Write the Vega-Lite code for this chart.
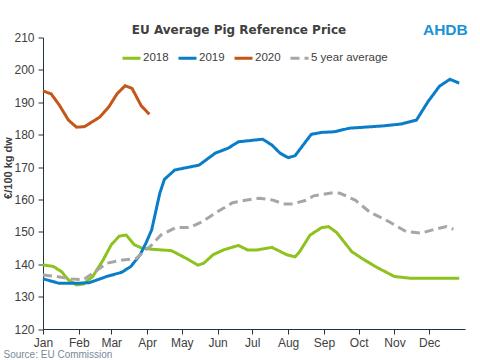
{
  "$schema": "https://vega.github.io/schema/vega-lite/v6.json",
  "width": 422,
  "height": 291.5,
  "autosize": {"type": "none"},
  "padding": {"left": 43, "top": 37.5, "right": 15, "bottom": 31},
  "background": "white",
  "title": {
    "text": "EU Average Pig Reference Price",
    "fontSize": 12,
    "font": "DejaVu Sans",
    "fontWeight": "bold",
    "color": "#404040",
    "anchor": "middle",
    "dx": -15,
    "offset": -14
  },
  "config": {
    "view": {"stroke": null},
    "font": "Liberation Sans",
    "axis": {"grid": false, "domainColor": "#1f3441", "tickColor": "#1f3441", "labelColor": "#404040", "labelFontSize": 12, "tickSize": 5, "labelOverlap": false, "labelFlush": false}
  },
  "datasets": {
    "prices": [
      {"series": "2018", "date": "2019-01-01", "value": 139.8},
      {"series": "2018", "date": "2019-01-10", "value": 139.3},
      {"series": "2018", "date": "2019-01-17", "value": 137.7},
      {"series": "2018", "date": "2019-01-23", "value": 135.2},
      {"series": "2018", "date": "2019-01-30", "value": 133.6},
      {"series": "2018", "date": "2019-02-05", "value": 133.9},
      {"series": "2018", "date": "2019-02-13", "value": 136.2},
      {"series": "2018", "date": "2019-02-22", "value": 141.3},
      {"series": "2018", "date": "2019-03-01", "value": 146.0},
      {"series": "2018", "date": "2019-03-08", "value": 148.7},
      {"series": "2018", "date": "2019-03-14", "value": 149.0},
      {"series": "2018", "date": "2019-03-21", "value": 146.0},
      {"series": "2018", "date": "2019-03-28", "value": 144.9},
      {"series": "2018", "date": "2019-04-06", "value": 144.6},
      {"series": "2018", "date": "2019-04-22", "value": 144.2},
      {"series": "2018", "date": "2019-05-05", "value": 141.8},
      {"series": "2018", "date": "2019-05-15", "value": 139.7},
      {"series": "2018", "date": "2019-05-20", "value": 140.3},
      {"series": "2018", "date": "2019-05-28", "value": 142.9},
      {"series": "2018", "date": "2019-06-06", "value": 144.4},
      {"series": "2018", "date": "2019-06-19", "value": 145.8},
      {"series": "2018", "date": "2019-06-27", "value": 144.4},
      {"series": "2018", "date": "2019-07-05", "value": 144.4},
      {"series": "2018", "date": "2019-07-18", "value": 145.2},
      {"series": "2018", "date": "2019-07-31", "value": 142.9},
      {"series": "2018", "date": "2019-08-07", "value": 142.3},
      {"series": "2018", "date": "2019-08-11", "value": 143.9},
      {"series": "2018", "date": "2019-08-20", "value": 149.0},
      {"series": "2018", "date": "2019-08-30", "value": 151.3},
      {"series": "2018", "date": "2019-09-05", "value": 151.6},
      {"series": "2018", "date": "2019-09-12", "value": 149.8},
      {"series": "2018", "date": "2019-09-25", "value": 143.9},
      {"series": "2018", "date": "2019-10-06", "value": 141.3},
      {"series": "2018", "date": "2019-10-18", "value": 138.8},
      {"series": "2018", "date": "2019-11-01", "value": 136.2},
      {"series": "2018", "date": "2019-11-14", "value": 135.7},
      {"series": "2018", "date": "2019-12-27", "value": 135.7},
      {"series": "2019", "date": "2019-01-01", "value": 135.5},
      {"series": "2019", "date": "2019-01-15", "value": 134.1},
      {"series": "2019", "date": "2019-01-30", "value": 134.1},
      {"series": "2019", "date": "2019-02-10", "value": 134.3},
      {"series": "2019", "date": "2019-02-25", "value": 136.2},
      {"series": "2019", "date": "2019-03-10", "value": 137.5},
      {"series": "2019", "date": "2019-03-18", "value": 139.3},
      {"series": "2019", "date": "2019-03-26", "value": 142.9},
      {"series": "2019", "date": "2019-03-31", "value": 146.5},
      {"series": "2019", "date": "2019-04-05", "value": 150.6},
      {"series": "2019", "date": "2019-04-12", "value": 161.9},
      {"series": "2019", "date": "2019-04-16", "value": 166.2},
      {"series": "2019", "date": "2019-04-25", "value": 169.1},
      {"series": "2019", "date": "2019-05-16", "value": 170.6},
      {"series": "2019", "date": "2019-05-30", "value": 174.3},
      {"series": "2019", "date": "2019-06-10", "value": 175.8},
      {"series": "2019", "date": "2019-06-19", "value": 177.8},
      {"series": "2019", "date": "2019-07-10", "value": 178.6},
      {"series": "2019", "date": "2019-07-18", "value": 176.8},
      {"series": "2019", "date": "2019-07-25", "value": 174.3},
      {"series": "2019", "date": "2019-08-01", "value": 172.9},
      {"series": "2019", "date": "2019-08-07", "value": 173.5},
      {"series": "2019", "date": "2019-08-21", "value": 180.1},
      {"series": "2019", "date": "2019-08-30", "value": 180.7},
      {"series": "2019", "date": "2019-09-10", "value": 180.9},
      {"series": "2019", "date": "2019-09-23", "value": 182.0},
      {"series": "2019", "date": "2019-10-22", "value": 182.7},
      {"series": "2019", "date": "2019-11-07", "value": 183.3},
      {"series": "2019", "date": "2019-11-20", "value": 184.5},
      {"series": "2019", "date": "2019-11-30", "value": 190.2},
      {"series": "2019", "date": "2019-12-10", "value": 195.0},
      {"series": "2019", "date": "2019-12-19", "value": 197.1},
      {"series": "2019", "date": "2019-12-27", "value": 195.9},
      {"series": "2020", "date": "2019-01-01", "value": 193.5},
      {"series": "2020", "date": "2019-01-08", "value": 192.6},
      {"series": "2020", "date": "2019-01-15", "value": 189.2},
      {"series": "2020", "date": "2019-01-23", "value": 184.5},
      {"series": "2020", "date": "2019-01-30", "value": 182.3},
      {"series": "2020", "date": "2019-02-06", "value": 182.5},
      {"series": "2020", "date": "2019-02-19", "value": 185.4},
      {"series": "2020", "date": "2019-02-27", "value": 188.6},
      {"series": "2020", "date": "2019-03-06", "value": 192.6},
      {"series": "2020", "date": "2019-03-13", "value": 195.1},
      {"series": "2020", "date": "2019-03-19", "value": 194.3},
      {"series": "2020", "date": "2019-03-27", "value": 188.9},
      {"series": "2020", "date": "2019-04-03", "value": 186.3},
      {"series": "5 year average", "date": "2019-01-01", "value": 136.7},
      {"series": "5 year average", "date": "2019-01-13", "value": 136.2},
      {"series": "5 year average", "date": "2019-01-24", "value": 135.5},
      {"series": "5 year average", "date": "2019-02-05", "value": 135.2},
      {"series": "5 year average", "date": "2019-02-13", "value": 137.2},
      {"series": "5 year average", "date": "2019-02-25", "value": 140.3},
      {"series": "5 year average", "date": "2019-03-11", "value": 141.3},
      {"series": "5 year average", "date": "2019-03-23", "value": 141.8},
      {"series": "5 year average", "date": "2019-04-01", "value": 144.9},
      {"series": "5 year average", "date": "2019-04-03", "value": 145.2},
      {"series": "5 year average", "date": "2019-04-13", "value": 149.0},
      {"series": "5 year average", "date": "2019-04-26", "value": 151.3},
      {"series": "5 year average", "date": "2019-05-08", "value": 151.3},
      {"series": "5 year average", "date": "2019-05-19", "value": 153.2},
      {"series": "5 year average", "date": "2019-05-31", "value": 156.0},
      {"series": "5 year average", "date": "2019-06-14", "value": 159.0},
      {"series": "5 year average", "date": "2019-07-02", "value": 160.2},
      {"series": "5 year average", "date": "2019-07-07", "value": 160.4},
      {"series": "5 year average", "date": "2019-07-19", "value": 159.8},
      {"series": "5 year average", "date": "2019-07-28", "value": 158.6},
      {"series": "5 year average", "date": "2019-08-05", "value": 158.6},
      {"series": "5 year average", "date": "2019-08-17", "value": 159.8},
      {"series": "5 year average", "date": "2019-08-23", "value": 161.1},
      {"series": "5 year average", "date": "2019-09-09", "value": 162.1},
      {"series": "5 year average", "date": "2019-09-15", "value": 161.9},
      {"series": "5 year average", "date": "2019-09-28", "value": 159.8},
      {"series": "5 year average", "date": "2019-10-11", "value": 156.0},
      {"series": "5 year average", "date": "2019-10-27", "value": 153.2},
      {"series": "5 year average", "date": "2019-11-11", "value": 150.1},
      {"series": "5 year average", "date": "2019-11-24", "value": 149.6},
      {"series": "5 year average", "date": "2019-12-04", "value": 150.6},
      {"series": "5 year average", "date": "2019-12-16", "value": 151.6},
      {"series": "5 year average", "date": "2019-12-22", "value": 150.8}
    ],
    "logo": [{"label": "AHDB", "date": "2019-12-15", "value": 212.2}]
  },
  "encoding": {
    "x": {
      "field": "date", "type": "temporal",
      "scale": {"domain": ["2019-01-01", "2020-01-01"]},
      "axis": {
        "format": "%b",
        "values": ["2019-01-01", "2019-02-01", "2019-03-01", "2019-04-01", "2019-05-01", "2019-06-01", "2019-07-01", "2019-08-01", "2019-09-01", "2019-10-01", "2019-11-01", "2019-12-01"],
        "labelOverlap": false, "labelFlush": false,
        "labelPadding": 3,
        "title": "Source: EU Commission",
        "titleAnchor": "start", "titleAlign": "left", "titleBaseline": "alphabetic", "titleX": -40, "titleY": 28,
        "titleFontSize": 10, "titleFontWeight": "normal", "titleColor": "#7a8a99"
      }
    },
    "y": {
      "field": "value", "type": "quantitative",
      "scale": {"domain": [120, 210], "nice": false, "zero": false},
      "axis": {
        "values": [120, 130, 140, 150, 160, 170, 180, 190, 200, 210],
        "labelOverlap": false,
        "title": "€/100 kg dw", "titleFontSize": 11, "titleFontWeight": "bold", "titleColor": "#404040",
        "titlePadding": 0, "titleY": 130, "labelPadding": 4
      }
    }
  },
  "layer": [
    {
      "data": {"name": "prices"},
      "mark": {"type": "line", "strokeWidth": 3, "interpolate": "linear"},
      "encoding": {
        "color": {
          "field": "series", "type": "nominal", "title": null,
          "scale": {"domain": ["2018", "2019", "2020", "5 year average"], "range": ["#8dc21f", "#0a7dc8", "#c5561a", "#a6a6a6"]},
          "legend": {
            "orient": "none", "legendX": 78, "legendY": 10, "direction": "horizontal",
            "symbolType": "stroke", "symbolSize": 324, "symbolStrokeWidth": 3,
            "labelFontSize": 11.5, "labelColor": "#404040", "labelOffset": 1, "columnPadding": 3
          }
        },
        "strokeDash": {
          "field": "series", "type": "nominal", "title": null,
          "scale": {"domain": ["2018", "2019", "2020", "5 year average"], "range": [[1, 0], [1, 0], [1, 0], [9, 5]]}
        }
      }
    },
    {
      "data": {"name": "logo"},
      "mark": {"type": "text", "font": "Liberation Sans", "fontWeight": "bold", "fontSize": 15.5, "color": "#1a92d8", "clip": false},
      "encoding": {
        "text": {"field": "label"}
      }
    }
  ]
}
